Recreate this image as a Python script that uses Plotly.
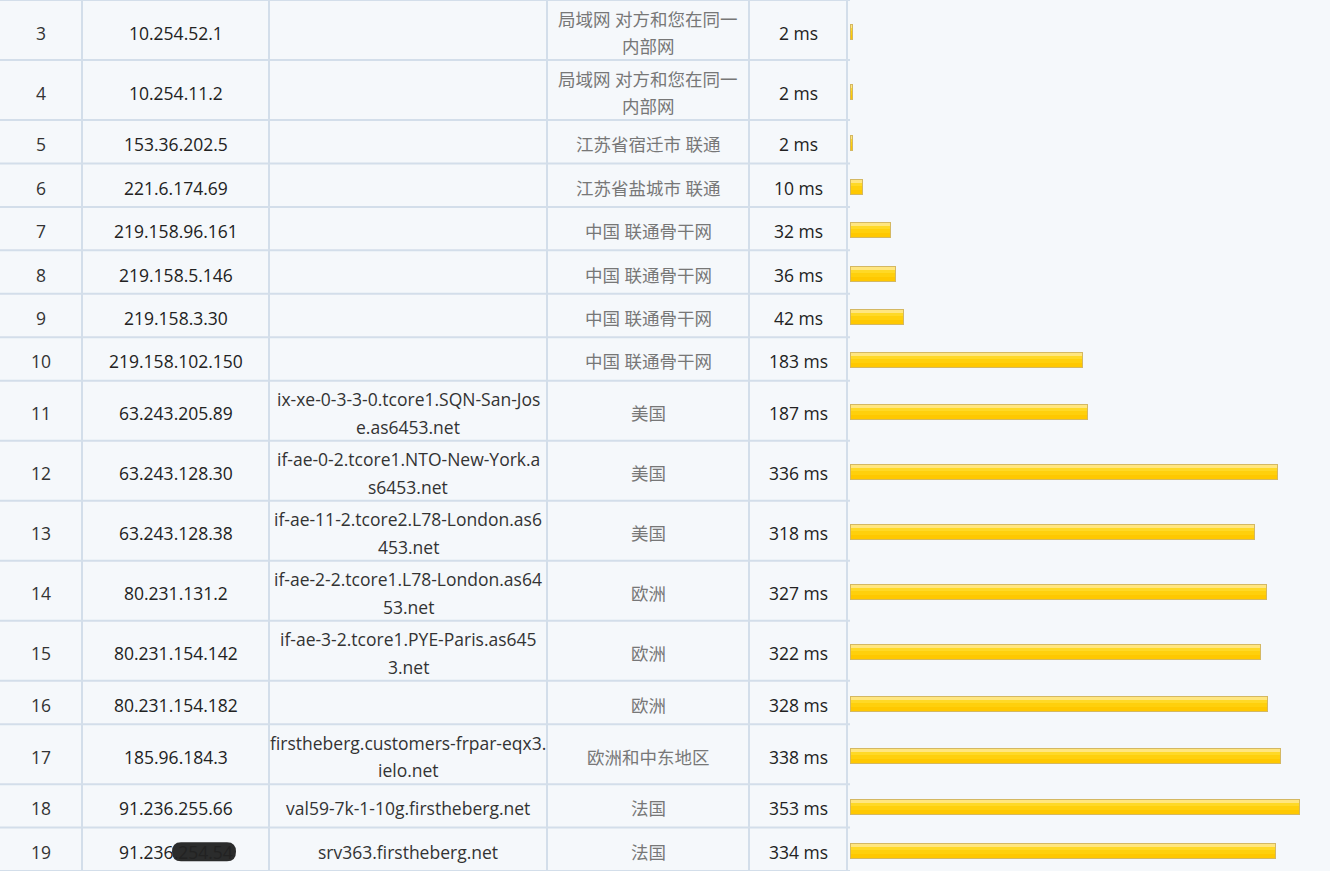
import plotly.graph_objects as go

# ---------------- data ----------------
hops = [3, 4, 5, 6, 7, 8, 9, 10, 11, 12, 13, 14, 15, 16, 17, 18, 19]
ips = ["10.254.52.1", "10.254.11.2", "153.36.202.5", "221.6.174.69",
       "219.158.96.161", "219.158.5.146", "219.158.3.30", "219.158.102.150",
       "63.243.205.89", "63.243.128.30", "63.243.128.38", "80.231.131.2",
       "80.231.154.142", "80.231.154.182", "185.96.184.3", "91.236.255.66",
       "91.236.254.54"]
hosts = ["", "", "", "", "", "", "", "",
         "ix-xe-0-3-3-0.tcore1.SQN-San-Jos\ne.as6453.net",
         "if-ae-0-2.tcore1.NTO-New-York.a\ns6453.net",
         "if-ae-11-2.tcore2.L78-London.as6\n453.net",
         "if-ae-2-2.tcore1.L78-London.as64\n53.net",
         "if-ae-3-2.tcore1.PYE-Paris.as645\n3.net",
         "",
         "firstheberg.customers-frpar-eqx3.\nielo.net",
         "val59-7k-1-10g.firstheberg.net",
         "srv363.firstheberg.net"]
locations = ["局域网 对方和您在同一\n内部网", "局域网 对方和您在同一\n内部网",
             "江苏省宿迁市 联通", "江苏省盐城市 联通",
             "中国 联通骨干网", "中国 联通骨干网", "中国 联通骨干网", "中国 联通骨干网",
             "美国", "美国", "美国", "欧洲", "欧洲", "欧洲",
             "欧洲和中东地区", "法国", "法国"]
latency_ms = [2, 2, 2, 10, 32, 36, 42, 183, 187, 336, 318, 327, 322, 328, 338, 353, 334]

# ---------------- layout constants ----------------
W, H = 1330, 871
COL_EDGES = [0, 82, 269, 547, 749, 847, 1330]
ROW_ONE = 43.45
ROW_TWO = 60.0
LINE_GAP = 27.5
TEXT_SHIFT = 2.5
BAR_X0 = 850
PX_PER_MS = 1.275
BAR_H = 16
BAR_SHIFT = 1.5
FONT = "Open Sans, Noto Sans CJK SC, sans-serif"
FSIZE = 17.5
BG = "#F5F8FB"
GRID = "#D3DEEA"

# row geometry
n_lines = [max(h.count("\n"), l.count("\n")) + 1 for h, l in zip(hosts, locations)]
heights = [ROW_TWO if n > 1 else ROW_ONE for n in n_lines]
edges = [0.0]
for h in heights:
    edges.append(edges[-1] + h)
centers = [(a + b) / 2 for a, b in zip(edges[:-1], edges[1:])]
col_centers = [(a + b) / 2 for a, b in zip(COL_EDGES[:-1], COL_EDGES[1:])]

fig = go.Figure()

# ---------------- bars (gradient via stacked overlays) ----------------
px = 1.0 / PX_PER_MS
bar_y = [c + BAR_SHIFT for c in centers]
layers = [
    # (top offset px, height px, color, inset)
    (0, 16, "#D4B862", False),
    (1, 14, "#FFC800", True),
    (1, 10, "#FFD00C", True),
    (1, 6, "#FFD926", True),
    (1, 3, "#FFE680", True),
]
for top, hgt, col, inset in layers:
    off = -BAR_H / 2 + top
    if inset:
        xs = [max(v - 2 * px, 0.3 * px) for v in latency_ms]
        base = [px] * len(latency_ms)
    else:
        xs = latency_ms
        base = [0] * len(latency_ms)
    fig.add_trace(go.Bar(
        x=xs, y=bar_y, base=base, orientation="h",
        width=hgt, offset=off,
        marker=dict(color=col, line=dict(width=0)),
        xaxis="x2", yaxis="y", hoverinfo="skip", showlegend=False,
    ))

# ---------------- grid lines ----------------
shapes = []
for e in edges:
    shapes.append(dict(type="line", xref="x", yref="y", x0=0, x1=W, y0=e, y1=e,
                       line=dict(color=GRID, width=2), layer="below"))
for cx in COL_EDGES[1:-1]:
    shapes.append(dict(type="line", xref="x", yref="y", x0=cx, x1=cx, y0=0, y1=H,
                       line=dict(color=GRID, width=2), layer="below"))

# ---------------- cell text ----------------
annotations = []
colors = ["#333333", "#222222", "#333333", "#777777", "#222222"]
for i in range(len(hops)):
    cells = [str(hops[i]), ips[i], hosts[i], locations[i], f"{latency_ms[i]} ms"]
    for j, txt in enumerate(cells):
        if not txt:
            continue
        lines = txt.split("\n")
        n = len(lines)
        for k, ln in enumerate(lines):
            y = centers[i] + TEXT_SHIFT + (k - (n - 1) / 2) * LINE_GAP
            annotations.append(dict(
                x=col_centers[j], y=y, xref="x", yref="y", text=ln,
                showarrow=False, xanchor="center", yanchor="middle",
                font=dict(family=FONT, size=FSIZE, color=colors[j]),
            ))

# redaction smudge over the last IP (as in the source screenshot)
last = len(hops) - 1
yc = centers[last] + TEXT_SHIFT
shapes.append(dict(
    type="path", xref="x", yref="y", layer="above",
    path=(f"M 181,{yc-9.5} L 227,{yc-9.5} Q 236,{yc-9.5} 236,{yc} "
          f"Q 236,{yc+9.5} 227,{yc+9.5} L 181,{yc+9.5} Q 172,{yc+9.5} 172,{yc} "
          f"Q 172,{yc-9.5} 181,{yc-9.5} Z"),
    fillcolor="#151515", opacity=0.9, line=dict(width=0),
))

fig.update_layout(
    width=W, height=H, margin=dict(l=0, r=0, t=0, b=0),
    paper_bgcolor=BG, plot_bgcolor=BG,
    barmode="overlay", bargap=0,
    shapes=shapes, annotations=annotations,
    xaxis=dict(range=[0, W], visible=False, fixedrange=True),
    xaxis2=dict(domain=[BAR_X0 / W, 1], range=[0, (W - BAR_X0) / PX_PER_MS],
                visible=False, fixedrange=True, anchor="y"),
    yaxis=dict(range=[H, 0], visible=False, fixedrange=True),
    showlegend=False,
)

fig.write_html("out.html", config={"displayModeBar": False},
               post_script="document.body.style.margin='0';document.body.style.overflow='hidden';")
